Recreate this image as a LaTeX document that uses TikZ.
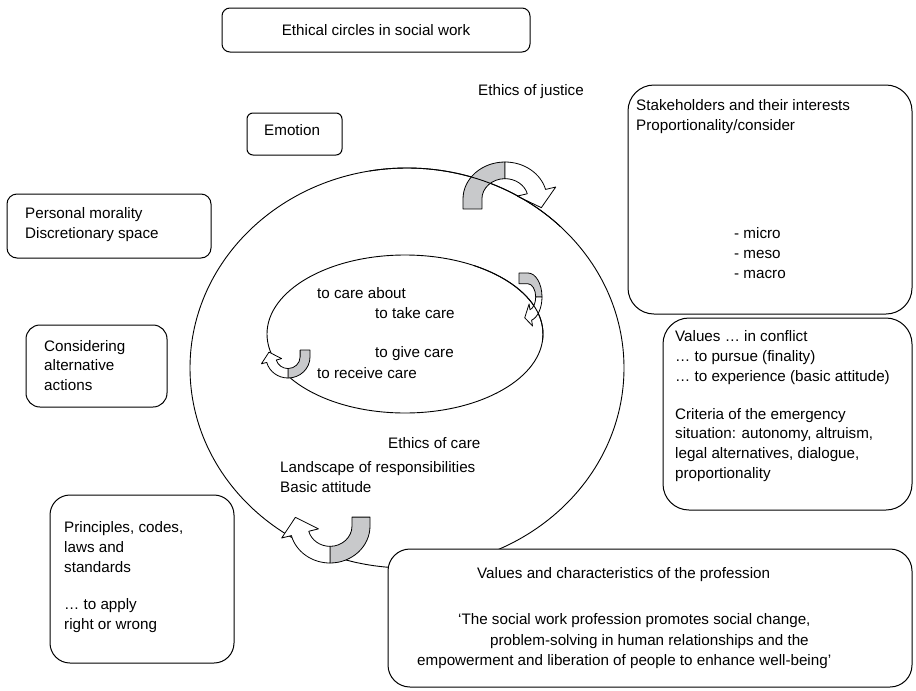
\documentclass[tikz,border=0pt]{standalone}
\usepackage{fontspec}
\setmainfont{Liberation Sans}
\definecolor{argrey}{RGB}{200,201,203}
\tikzset{
  box/.style={draw, line width=1pt, fill=white},
  txt/.style={anchor=base west, inner sep=0pt, font=\fontsize{15.2}{20}\selectfont},
  ctxt/.style={inner sep=0pt, font=\fontsize{15.2}{20}\selectfont},
  ring/.style={draw, line width=0.9pt},
  arline/.style={line width=0.8pt, line join=round},
}
% #1 cx, #2 cy, #3 rotation, #4 sx, #5 sy, #6 grey leg length
\newcommand\uturnarrow[6]{%
  \begin{scope}[shift={(#1,#2)}, yscale=-1, rotate=#3, xscale=#4, yscale=#5]
    \filldraw[arline, fill=argrey] (-1,-#6) -- (-1,0) arc[start angle=180, end angle=90, radius=1]
      -- (0,0.55) arc[start angle=90, end angle=180, radius=0.55] -- (-0.55,-#6) -- cycle;
    \filldraw[arline, fill=white] (0,1) arc[start angle=90, end angle=15, radius=1]
      -- (15:1.25) -- (0.865,-0.234) -- (15:0.3) -- (15:0.55)
      arc[start angle=15, end angle=90, radius=0.55] -- cycle;
  \end{scope}}
\begin{document}
\begin{tikzpicture}[x=1pt, y=-1pt]
\useasboundingbox (0,0) rectangle (916,691);
\fill[white] (0,0) rectangle (916,691);

% circles
\draw[ring] (407,368) ellipse [x radius=217, y radius=200];
\draw[ring] (405,334) ellipse [x radius=138, y radius=79];

% boxes
\draw[box, rounded corners=8pt] (222,8) rectangle (530,52);
\draw[box, rounded corners=6pt] (247,113) rectangle (342,155);
\draw[box, rounded corners=10pt] (7,194) rectangle (211,258);
\draw[box, rounded corners=14pt] (26,325) rectangle (167,407);
\draw[box, rounded corners=26pt] (628,85) rectangle (912,314);
\draw[box, rounded corners=26pt] (663,318) rectangle (912,510);
\draw[box, rounded corners=20pt] (50,495) rectangle (234,663);
\draw[box, rounded corners=22pt] (388,549) rectangle (912,687);

% curved arrows
\uturnarrow{505}{199}{0}{42}{37}{0.27}
\uturnarrow{528}{297}{90}{24}{14}{0.64}
\uturnarrow{288}{357}{180}{22}{21}{0.33}
\uturnarrow{330}{526}{180}{40}{37}{0.24}

% circle lines passing over the arrows
\draw[ring] ([shift={(407,368)}]-100:217 and 200) arc[start angle=-100, end angle=-45, x radius=217, y radius=200];
\draw[ring] ([shift={(405,334)}]-60:138 and 79) arc[start angle=-60, end angle=5, x radius=138, y radius=79];

% texts
\node[ctxt] (title) at (376,30) {Ethical circles in social work};
\node[txt] (justice) at (478,95) {Ethics of justice};
\node[txt] (emotion) at (264,135) {Emotion};
\node[txt] (pm1) at (25,218) {Personal morality};
\node[txt] (pm2) at (25,238) {Discretionary space};
\node[txt] (ca1) at (44,351) {Considering};
\node[txt] (ca2) at (44,370) {alternative};
\node[txt] (ca3) at (44,390) {actions};
\node[txt] (sh1) at (636,110) {Stakeholders and their interests};
\node[txt] (sh2) at (636,130) {Proportionality/consider};
\node[txt] (sh3) at (734,238) {- micro};
\node[txt] (sh4) at (734,258) {- meso};
\node[txt] (sh5) at (734,278) {- macro};
\node[txt] (v1) at (675,341) {Values … in conflict};
\node[txt] (v2) at (675,361) {… to pursue (finality)};
\node[txt] (v3) at (675,381) {… to experience (basic attitude)};
\node[txt] (v4) at (675,419) {Criteria of the emergency};
\node[txt] (v5) at (675,438) {situation: autonomy, altruism,};
\node[txt] (v6) at (675,458) {legal alternatives, dialogue,};
\node[txt] (v7) at (675,478) {proportionality};
\node[txt] (ic1) at (317,298) {to care about};
\node[txt] (ic2) at (375,318) {to take care};
\node[txt] (ic3) at (375,357) {to give care};
\node[txt] (ic4) at (317,378) {to receive care};
\node[txt] (ec1) at (388,448) {Ethics of care};
\node[txt] (ec2) at (280,472) {Landscape of responsibilities};
\node[txt] (ec3) at (280,492) {Basic attitude};
\node[txt] (pr1) at (64,532) {Principles, codes,};
\node[txt] (pr2) at (64,552) {laws and};
\node[txt] (pr3) at (64,572) {standards};
\node[txt] (pr4) at (64,609) {… to apply};
\node[txt] (pr5) at (64,629) {right or wrong};
\node[txt] (b1) at (477,578) {Values and characteristics of the profession};
\node[txt] (b2) at (458,624) {‘The social work profession promotes social change,};
\node[txt] (b3) at (490,645) {problem-solving in human relationships and the};
\node[txt] (b4) at (417,665) {empowerment and liberation of people to enhance well-being’};
\end{tikzpicture}
\end{document}
